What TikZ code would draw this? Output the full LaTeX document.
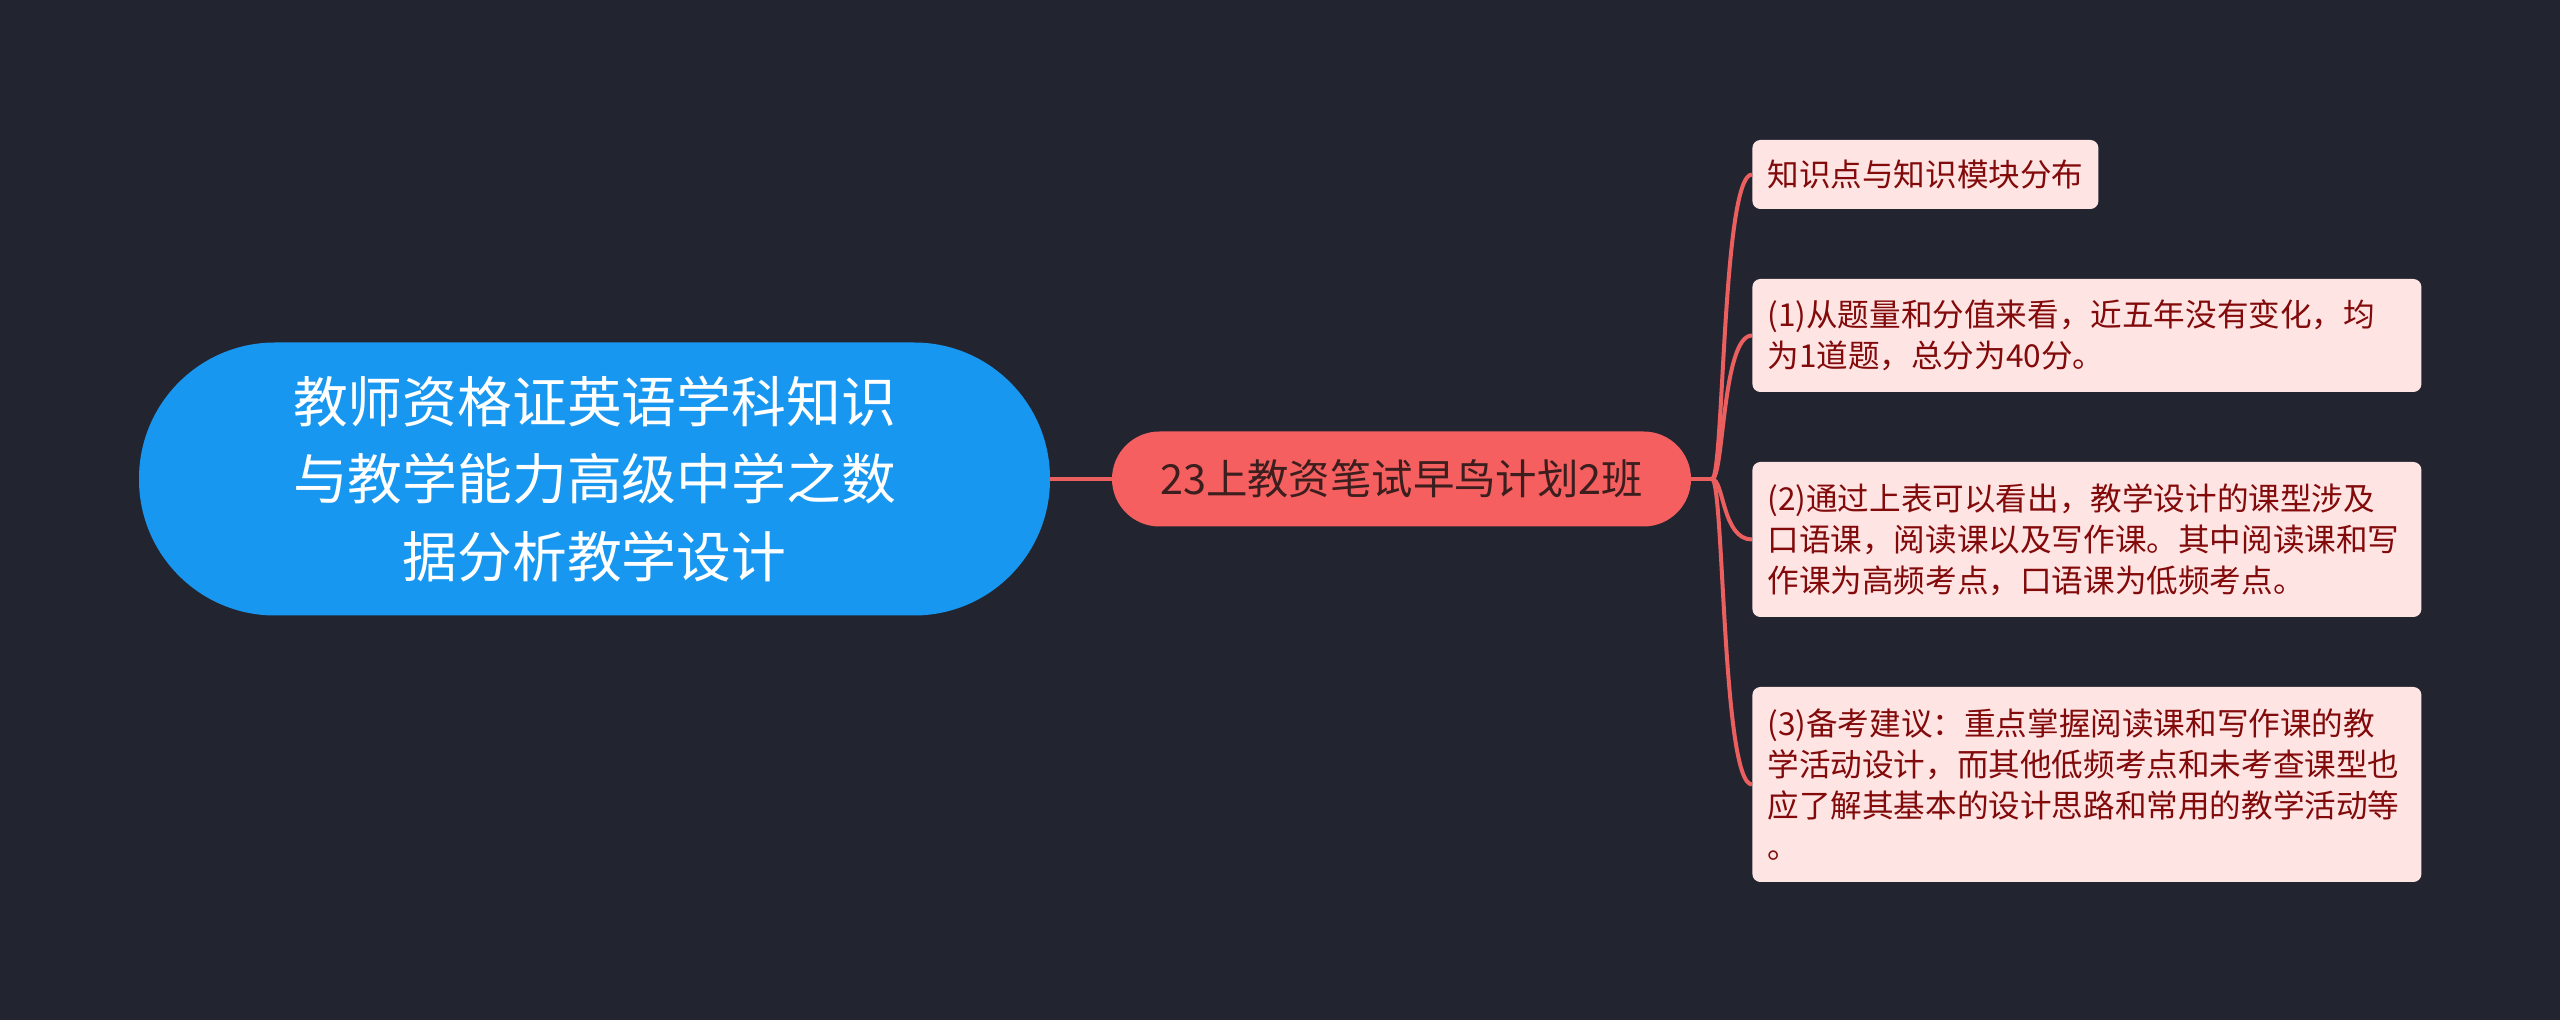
\documentclass[tikz,border=0pt]{standalone}
\usepackage{fontspec}
\newfontfamily\cjk{Noto Sans CJK SC}
\usetikzlibrary{calc}
\definecolor{bgdark}{RGB}{34,37,48}
\definecolor{topicblue}{RGB}{24,151,240}
\definecolor{branchred}{RGB}{245,95,95}
\definecolor{linkred}{RGB}{235,95,95}
\definecolor{leafpink}{RGB}{255,228,228}
\definecolor{leaftext}{RGB}{130,10,10}
\definecolor{branchtext}{RGB}{60,30,30}
\tikzset{
  topic/.style  = {fill=topicblue, text=white, align=center, inner sep=0pt,
                   minimum width=455.5pt, minimum height=136.5pt, rounded corners=68pt,
                   font={\cjk\fontsize{27.4}{38.8}\selectfont}},
  branch/.style = {fill=branchred, text=branchtext, inner sep=0pt,
                   minimum width=289.5pt, minimum height=47.5pt, rounded corners=23.7pt,
                   font={\cjk\fontsize{20.7}{24}\selectfont}},
  leaf/.style   = {fill=leafpink, text=leaftext, align=left, anchor=west,
                   inner xsep=7.5pt, inner ysep=0pt, rounded corners=4pt,
                   font={\cjk\fontsize{15.8}{20.5}\selectfont}},
  link/.style   = {linkred, line width=2pt},
}
\begin{document}
\begin{tikzpicture}[x=0.5pt,y=-0.5pt]
  \fill[bgdark] (0,0) rectangle (2560,1020);
  \useasboundingbox (0,0) rectangle (2560,1020);
  \node[topic] (topic) at (594.5,479)
    {教师资格证英语学科知识\\与教学能力高级中学之数\\据分析教学设计};
  \node[branch] (branch) at (1401.5,479) {23上教资笔试早鸟计划2班};
  \node[leaf, minimum height=34.5pt] (k1) at (1752,174.5) {知识点与知识模块分布};
  \node[leaf, text width=319.5pt, minimum height=56.5pt] (k2) at (1752,335.5)
    {(1)从题量和分值来看，近五年没有变化，均\\为1道题，总分为40分。};
  \node[leaf, text width=319.5pt, minimum height=77.5pt] (k3) at (1752,539.5)
    {(2)通过上表可以看出，教学设计的课型涉及\\口语课，阅读课以及写作课。其中阅读课和写\\作课为高频考点，口语课为低频考点。};
  \node[leaf, text width=319.5pt, minimum height=97.5pt] (k4) at (1752,784.5)
    {(3)备考建议：重点掌握阅读课和写作课的教\\学活动设计，而其他低频考点和未考查课型也\\应了解其基本的设计思路和常用的教学活动等\\。};
  \coordinate (jn) at (1712,479);
  \draw[link] (topic.east) -- (branch.west);
  \draw[link] (branch.east) -- (jn);
  \foreach \n in {k1,k2,k3,k4}
    {\draw[link] (jn) .. controls ($(jn)+(12,0)$) and ($(jn |- \n.west)+(10,0)$) .. (\n.west);}
\end{tikzpicture}
\end{document}
